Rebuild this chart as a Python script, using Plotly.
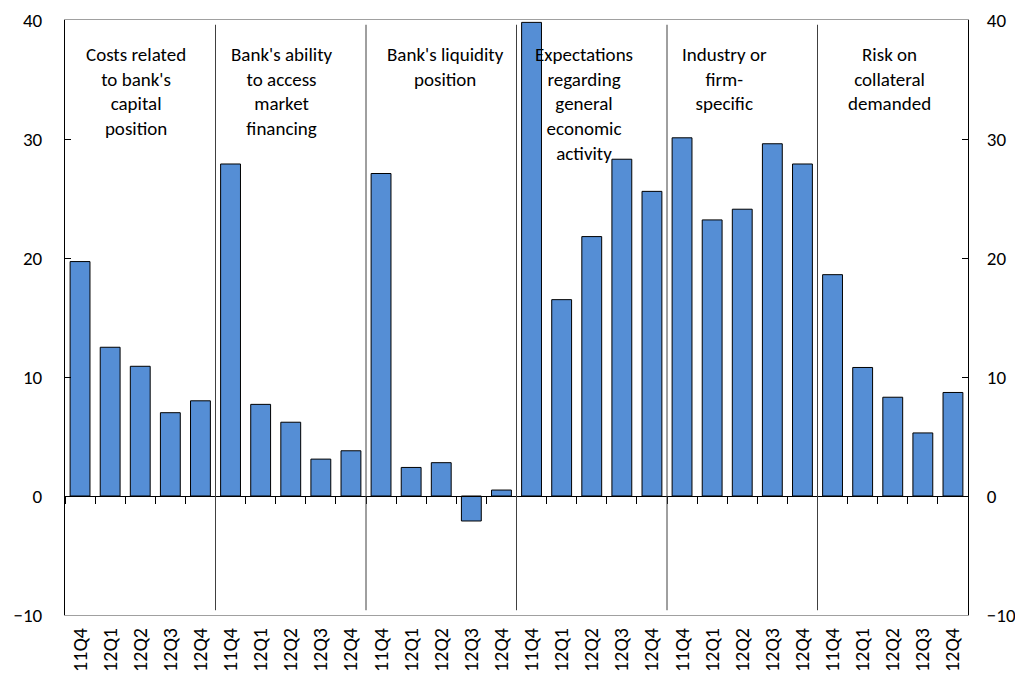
import plotly.graph_objects as go

groups = [
    "Costs related<br>to bank's<br>capital<br>position",
    "Bank's ability<br>to access<br>market<br>financing",
    "Bank's liquidity<br>position",
    "Expectations<br>regarding<br>general<br>economic<br>activity",
    "Industry or<br>firm-<br>specific",
    "Risk on<br>collateral<br>demanded",
]
quarters = ["11Q4", "12Q1", "12Q2", "12Q3", "12Q4"]

costs_capital = [19.7, 12.5, 10.9, 7.0, 8.0]
market_financing = [27.9, 7.7, 6.2, 3.1, 3.8]
liquidity = [27.1, 2.4, 2.8, -2.1, 0.5]
expectations = [39.8, 16.5, 21.8, 28.3, 25.6]
industry = [30.1, 23.2, 24.1, 29.6, 27.9]
collateral = [18.6, 10.8, 8.3, 5.3, 8.7]

series = [costs_capital, market_financing, liquidity, expectations, industry, collateral]
label_xshift = [-4, -9, 4, -8, -18, -3]

font_family = "Calibri, Carlito, Lato, sans-serif"

cats, vals, ticktext = [], [], []
for g, vs in enumerate(series):
    for q, v in zip(quarters, vs):
        cats.append(f"g{g}-{q}")
        vals.append(v)
        ticktext.append(q)

fig = go.Figure()
fig.add_trace(go.Bar(
    x=cats, y=vals, marker=dict(color="#558ED5", line=dict(color="black", width=1)),
    width=0.66, xaxis="x", yaxis="y", showlegend=False, hoverinfo="y",
))
# invisible trace to carry the zero-line axis and the right axis
fig.add_trace(go.Scatter(
    x=cats, y=vals, mode="markers", marker=dict(opacity=0), xaxis="x2", yaxis="y2",
    showlegend=False, hoverinfo="skip",
))

start = 0
for g, vs in enumerate(series):
    center = start + (len(vs) - 1) / 2
    fig.add_annotation(
        x=center, y=38.2, xref="x", yref="y", text=groups[g], showarrow=False,
        xanchor="center", yanchor="top", xshift=label_xshift[g],
        font=dict(family=font_family, size=19, color="black"), align="center",
    )
    if g > 0:
        fig.add_shape(type="line", xref="x", yref="y", x0=start - 0.5, x1=start - 0.5,
                      y0=-9.6, y1=39.6, line=dict(color="#404040", width=1))
    start += len(vs)

# light grey strip along the left edge of the picture
fig.add_shape(type="rect", xref="paper", yref="paper", x0=-65 / 903, x1=-61 / 903,
              y0=-1, y1=2, line=dict(width=0), fillcolor="#E6E6E6", layer="below")

yr = [-10, 40]
# page body has an 8px margin, so offsets are compensated here
fig.update_layout(
    width=1015, height=668,
    margin=dict(l=57, r=55, t=12, b=61),
    paper_bgcolor="white", plot_bgcolor="white",
    xaxis=dict(
        type="category", range=[-0.5, len(cats) - 0.5], tickmode="array",
        tickvals=cats, ticktext=ticktext, tickangle=-90, ticks="",
        showline=True, linecolor="#A0A0A0", linewidth=1, mirror=True,
        showgrid=False, zeroline=False, automargin=False, ticklabelstandoff=4,
        tickfont=dict(family=font_family, size=20, color="black"),
    ),
    xaxis2=dict(
        type="category", overlaying="x", anchor="free", position=0.2, side="bottom",
        range=[-0.5, len(cats) - 0.5], tickson="boundaries", ticks="outside",
        ticklen=7, tickcolor="black", showticklabels=False, showline=True,
        linecolor="black", linewidth=1, showgrid=False, zeroline=False,
    ),
    yaxis=dict(
        range=yr, tickvals=[-10, 0, 10, 20, 30, 40], ticks="inside", ticklen=6,
        tickcolor="black", showline=True, linecolor="black", linewidth=1,
        showgrid=False, zeroline=False, automargin=False, ticklabelstandoff=18,
        tickfont=dict(family=font_family, size=19, color="black"),
    ),
    yaxis2=dict(
        range=yr, overlaying="y", side="right", anchor="x",
        tickvals=[-10, 0, 10, 20, 30, 40], ticks="inside", ticklen=6,
        tickcolor="black", showline=True, linecolor="black", linewidth=1,
        showgrid=False, zeroline=False, automargin=False, ticklabelstandoff=14,
        tickfont=dict(family=font_family, size=19, color="black"),
    ),
)

fig.write_html("out.html")
